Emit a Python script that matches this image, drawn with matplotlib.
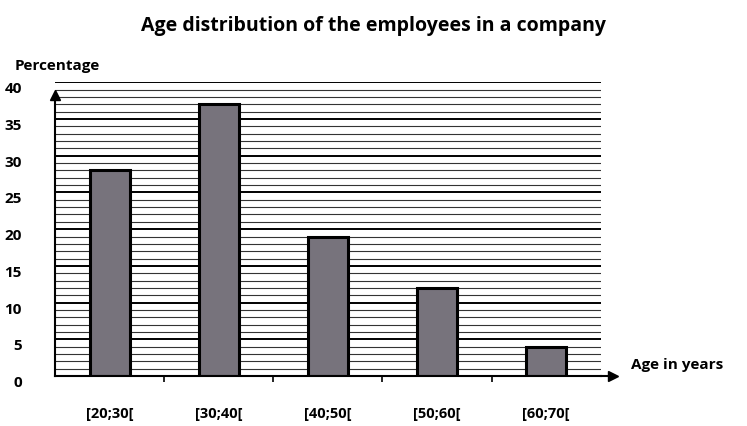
import numpy as np
import matplotlib
matplotlib.use("Agg")
from matplotlib import pyplot as plt

plt.rcParams['font.family'] = ['Open Sans', 'DejaVu Sans']

# data
age_groups = ['[20;30[', '[30;40[', '[40;50[', '[50;60[', '[60;70[']
percentages = [28, 37, 19, 12, 4]
y_ticks = [0, 5, 10, 15, 20, 25, 30, 35, 40]

fig = plt.figure(figsize=(7.47, 4.26), dpi=100)
ax = fig.add_axes([0.074, 0.117, 0.73, 0.69])

x = np.arange(len(age_groups))

# horizontal lines: thin every unit, thick every 5
for v in range(0, 41):
    if v % 5 == 0:
        ax.axhline(v, color='black', lw=1.4, zorder=1)
    else:
        ax.axhline(v, color='#333333', lw=0.8, zorder=1)

ax.bar(x, percentages, width=0.37, color='#77737c', edgecolor='black', lw=2.2, zorder=3)

ax.set_xlim(-0.5, 4.5)
ax.set_ylim(0, 40)
ax.set_yticks(y_ticks)
ax.set_yticklabels([str(t) for t in y_ticks], fontsize=11, fontweight='bold')
ax.tick_params(axis='y', length=0, pad=24)
for lab in ax.get_yticklabels():
    lab.set_va('top')

ax.set_xticks(x)
ax.set_xticklabels(age_groups, fontsize=10.5, fontweight='bold')
ax.tick_params(axis='x', which='major', length=0, pad=22)
ax.set_xticks(x[:-1] + 0.5, minor=True)
ax.tick_params(axis='x', which='minor', length=4, width=1.2, direction='out')

for s in ['top', 'right']:
    ax.spines[s].set_visible(False)
ax.spines['left'].set_bounds(0, 38)
ax.spines['left'].set_linewidth(1.5)
ax.spines['bottom'].set_linewidth(1.5)
ax.spines['bottom'].set_zorder(4)

# axis arrows
yx = ax.get_yaxis_transform()
ax.plot([1.0, 1.02], [0, 0], color='black', lw=1.5, transform=yx, clip_on=False)
ax.plot(1.022, 0, '>k', ms=7, transform=yx, clip_on=False)
ax.plot(0, 0.955, '^k', ms=7, transform=ax.transAxes, clip_on=False)

fig.text(0.50, 0.94, 'Age distribution of the employees in a company',
         ha='center', va='center', fontsize=14, fontweight='bold')
fig.text(0.02, 0.845, 'Percentage', ha='left', va='center', fontsize=11, fontweight='bold')
ax.text(1.055, 0.6, 'Age in years', transform=yx,
        ha='left', va='bottom', fontsize=11, fontweight='bold')

fig.savefig('out.png', dpi=100)
